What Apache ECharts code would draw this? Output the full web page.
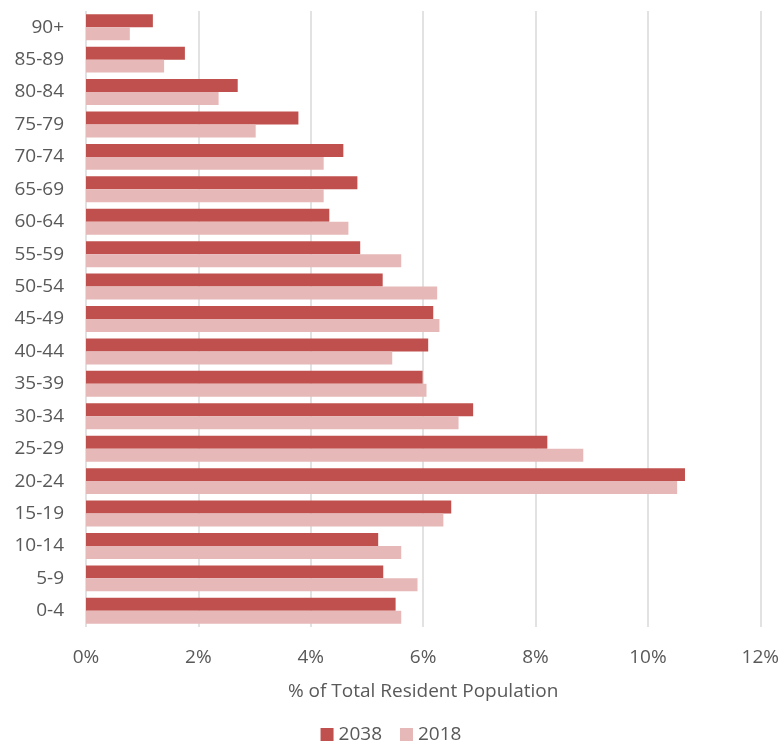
<!DOCTYPE html>
<html>
<head>
<meta charset="utf-8">
<script src="https://cdn.jsdelivr.net/npm/echarts@6/dist/echarts.min.js"></script>
<style>
  html, body { margin: 0; padding: 0; background: #fff; }
  #chart { width: 782px; height: 745px; }
</style>
</head>
<body>
<div id="chart"></div>
<script>
// Age groups, oldest at the top
const ageGroups = ['90+', '85-89', '80-84', '75-79', '70-74', '65-69', '60-64', '55-59', '50-54',
  '45-49', '40-44', '35-39', '30-34', '25-29', '20-24', '15-19', '10-14', '5-9', '0-4'];

// Share of total resident population (%)
const share2038 = [1.19, 1.76, 2.70, 3.78, 4.58, 4.83, 4.33, 4.88, 5.28,
  6.18, 6.09, 5.99, 6.89, 8.21, 10.66, 6.50, 5.20, 5.29, 5.51];
const share2018 = [0.78, 1.39, 2.36, 3.02, 4.23, 4.23, 4.67, 5.61, 6.25,
  6.29, 5.45, 6.06, 6.63, 8.85, 10.52, 6.36, 5.61, 5.90, 5.61];

const xTicks = [0, 2, 4, 6, 8, 10, 12];

const font = '"Open Sans", "Liberation Sans", sans-serif';
const chart = echarts.init(document.getElementById('chart'));
chart.setOption({
  animation: false,
  textStyle: { fontFamily: font },
  grid: { left: 86, right: 20, top: 11, bottom: 118, containLabel: false },
  legend: {
    bottom: -4,
    left: 'center',
    itemWidth: 13,
    itemHeight: 13,
    itemGap: 18,
    icon: 'rect',
    textStyle: { fontSize: 19, color: '#595959', fontFamily: font },
    data: ['2038', '2018']
  },
  xAxis: {
    type: 'value',
    min: xTicks[0],
    max: xTicks[xTicks.length - 1],
    interval: 2,
    name: '% of Total Resident Population',
    nameLocation: 'middle',
    nameGap: 55,
    nameTextStyle: { fontSize: 19, color: '#595959' },
    axisLine: { show: false },
    axisTick: { show: false },
    axisLabel: { fontSize: 19, color: '#595959', margin: 21, formatter: v => v + '%' },
    splitLine: { lineStyle: { color: '#d9d9d9', width: 1.5 } }
  },
  yAxis: {
    type: 'category',
    inverse: true,
    data: ageGroups,
    axisLine: { show: false },
    axisTick: { show: false },
    axisLabel: { fontSize: 19, color: '#595959', margin: 22 }
  },
  series: [
    {
      name: '2038', type: 'bar', data: share2038,
      itemStyle: { color: '#C0504D' },
      barGap: '0%', barCategoryGap: '20%'
    },
    {
      name: '2018', type: 'bar', data: share2018,
      itemStyle: { color: '#E6B9B8' },
      barGap: '0%', barCategoryGap: '20%'
    }
  ]
});
</script>
</body>
</html>
